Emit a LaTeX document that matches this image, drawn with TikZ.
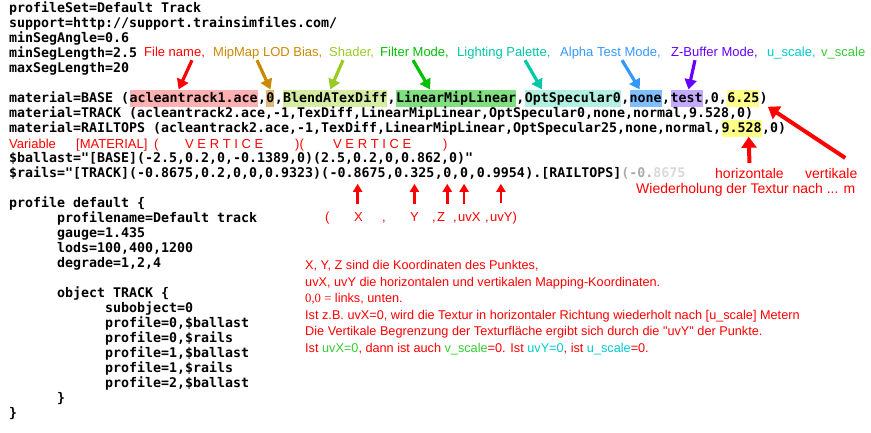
\documentclass[tikz,border=0pt]{standalone}
\usepackage{fontspec}
\usepackage{tikz}
\usetikzlibrary{positioning,arrows.meta}
\newfontfamily\codefont{DejaVu Sans Mono}
\newfontfamily\notefont{Liberation Sans}
\newfontfamily\noteserif{Liberation Serif}
\definecolor{annred}{HTML}{FF0000}
\definecolor{mipor}{HTML}{CC8800}
\definecolor{shdgr}{HTML}{99CC22}
\definecolor{fltgr}{HTML}{00C000}
\definecolor{littl}{HTML}{00C8A8}
\definecolor{alpbl}{HTML}{3399FF}
\definecolor{zbvio}{HTML}{6600FF}
\definecolor{uscl}{HTML}{00CCCC}
\definecolor{vscl}{HTML}{33CC33}
\definecolor{hlfile}{HTML}{FFB0B0}
\definecolor{hlmip}{HTML}{E0B878}
\definecolor{hlshd}{HTML}{D6ECA2}
\definecolor{hlflt}{HTML}{80E080}
\definecolor{hllit}{HTML}{B2F0E2}
\definecolor{hlalp}{HTML}{80BFFF}
\definecolor{hlzb}{HTML}{C4AAFF}
\definecolor{hlscl}{HTML}{FFFF88}

\begin{document}
\begin{tikzpicture}[
      x=1pt, y=-1pt,
      code/.style={
        anchor=base west,
        inner xsep=0pt,
        inner ysep=1pt,
        text height=12pt,
        text depth=3pt,
        font=\codefont\bfseries\fontsize{13.29}{15}\selectfont,
      },
      note/.style={
        anchor=base west,
        inner sep=0pt,
        text depth=3pt,
        font=\notefont\fontsize{13}{15}\selectfont,
      },
      big/.style={note, text=annred, font=\notefont\fontsize{14}{16}\selectfont},
      expl/.style={note, text=annred, font=\notefont\fontsize{12.7}{15}\selectfont},
      arr/.style={line width=3.2pt, -{Triangle[width=12pt,length=10pt]}},
      bigarr/.style={line width=4pt, annred, -{Triangle[width=15pt,length=11pt]}},
      uparr/.style={line width=2.6pt, annred, shorten <=9pt, shorten >=2pt,
        -{Triangle[width=9pt,length=8pt]}},
    ]
      \path[use as bounding box, fill=white] (0,0) rectangle (871,433);

      % file header
      \node[code] (l0) at (9,12.6) {profileSet=Default Track};
      \node[code] (l1) at (9,27.6) {support=http://support.trainsimfiles.com/};
      \node[code] (l2) at (9,42.6) {minSegAngle=0.6};
      \node[code] (l3) at (9,57.6) {minSegLength=2.5};
      \node[code] (l4) at (9,72.6) {maxSegLength=20};

      % material BASE, split into its fields
      \node[code] (mBase) at (9,102.6) {material=BASE (};
      \node[code, fill=hlfile, right=0pt of mBase] (hFile) {acleantrack1.ace};
      \node[code, right=0pt of hFile] (c1) {,};
      \node[code, fill=hlmip, right=0pt of c1] (hMip) {0};
      \node[code, right=0pt of hMip] (c2) {,};
      \node[code, fill=hlshd, right=0pt of c2] (hShd) {BlendATexDiff};
      \node[code, right=0pt of hShd] (c3) {,};
      \node[code, fill=hlflt, right=0pt of c3] (hFlt) {LinearMipLinear};
      \node[code, right=0pt of hFlt] (c4) {,};
      \node[code, fill=hllit, right=0pt of c4] (hLit) {OptSpecular0};
      \node[code, right=0pt of hLit] (c5) {,};
      \node[code, fill=hlalp, right=0pt of c5] (hAlp) {none};
      \node[code, right=0pt of hAlp] (c6) {,};
      \node[code, fill=hlzb, right=0pt of c6] (hZb) {test};
      \node[code, right=0pt of hZb] (c7) {,0,};
      \node[code, fill=hlscl, right=0pt of c7] (hScl) {6.25};
      \node[code, right=0pt of hScl] (bClose) {)};

      \node[code] (mTrack) at (9,117.6) {material=TRACK (acleantrack2.ace,-1,TexDiff,LinearMipLinear,OptSpecular0,none,normal,9.528,0)};
      \node[code] (mRail) at (9,132.6) {material=RAILTOPS (acleantrack2.ace,-1,TexDiff,LinearMipLinear,OptSpecular25,none,normal,};
      \node[code, fill=hlscl, right=0pt of mRail] (hRep) {9.528};
      \node[code, right=0pt of hRep] (rClose) {,0)};

      % variables
      \node[code] (vBal) at (9,162.6) {\$ballast="[BASE](-2.5,0.2,0,-0.1389,0)(2.5,0.2,0,0.862,0)"};
      \node[code] (vRails) at (9,177.6) {\$rails="[TRACK](-0.8675,0.2,0,0,0.9323)(};
      \node[code, right=0pt of vRails] (rX) {-0.8675};
      \node[code, right=0pt of rX] (k1) {,};
      \node[code, right=0pt of k1] (rY) {0.325};
      \node[code, right=0pt of rY] (k2) {,};
      \node[code, right=0pt of k2] (rZ) {0};
      \node[code, right=0pt of rZ] (k3) {,};
      \node[code, right=0pt of k3] (rU) {0};
      \node[code, right=0pt of rU] (k4) {,};
      \node[code, right=0pt of k4] (rV) {0.9954};
      \node[code, right=0pt of rV] (rTail) {).[RAILTOPS]\textcolor{gray!65}{(-0.}\textcolor{gray!30}{8675}};

      % profile block
      \node[code] (p0) at (9,207.6) {profile default \{};
      \node[code] (p1) at (57,222.6) {profilename=Default track};
      \node[code] (p2) at (57,237.6) {gauge=1.435};
      \node[code] (p3) at (57,252.6) {lods=100,400,1200};
      \node[code] (p4) at (57,267.6) {degrade=1,2,4};
      \node[code] (p5) at (57,297.6) {object TRACK \{};
      \node[code] (p6) at (105,312.6) {subobject=0};
      \node[code] (p7) at (105,327.6) {profile=0,\$ballast};
      \node[code] (p8) at (105,342.6) {profile=0,\$rails};
      \node[code] (p9) at (105,357.6) {profile=1,\$ballast};
      \node[code] (p10) at (105,372.6) {profile=1,\$rails};
      \node[code] (p11) at (105,387.6) {profile=2,\$ballast};
      \node[code] (p12) at (57,402.6) {\}};
      \node[code] (p13) at (9,417.6) {\}};

      % field names above the material line
      \node[note, text=annred] (lFile) at (144,57) {File name,};
      \node[note, text=mipor] (lMip) at (213,57) {MipMap LOD Bias,};
      \node[note, text=shdgr] (lShd) at (329,57) {Shader,};
      \node[note, text=fltgr] (lFlt) at (380,57) {Filter Mode,};
      \node[note, text=littl] (lLit) at (457,57) {Lighting Palette,};
      \node[note, text=alpbl] (lAlp) at (560,57) {Alpha Test Mode,};
      \node[note, text=zbvio] (lZb) at (671,57) {Z-Buffer Mode,};
      \node[note, text=uscl] (lU) at (767,57) {u\_scale,};
      \node[note, text=vscl] (lV) at (821,57) {v\_scale};

      \draw[arr, annred] ([xshift=48pt]lFile.south west) -- ([xshift=-15pt]hFile.north);
      \draw[arr, mipor] ([xshift=44pt]lMip.south west) -- (hMip.north);
      \draw[arr, shdgr] ([xshift=14pt]lShd.south west) -- ([xshift=-5pt]hShd.north);
      \draw[arr, fltgr] ([xshift=33pt]lFlt.south west) -- ([xshift=-26pt]hFlt.north);
      \draw[arr, littl] ([xshift=68pt]lLit.south west) -- ([xshift=-31pt]hLit.north);
      \draw[arr, alpbl] ([xshift=62pt]lAlp.south west) -- ([xshift=-6pt]hAlp.north);
      \draw[arr, zbvio] ([xshift=24pt]lZb.south west) -- ([xshift=2pt]hZb.north);

      % variable line legend
      \node[note, text=annred] (vVar) at (9,148.5) {Variable};
      \node[note, text=annred] (vMat) at (76,148.5) {[MATERIAL]};
      \node[note, text=annred] (vOpen) at (154,148.5) {(};
      \node[note, text=annred] (vV1) at (185,148.5) {V E R T I C E};
      \node[note, text=annred] (vMid) at (295,148.5) {)(};
      \node[note, text=annred] (vV2) at (333,148.5) {V E R T I C E};
      \node[note, text=annred] (vShut) at (443,148.5) {)};

      % texture repeat
      \node[big] (lHor) at (715,178.3) {horizontale};
      \node[big] (lVer) at (805,178.3) {vertikale};
      \node[big] (lRep) at (636,193.3) {Wiederholung der Textur nach ... m};
      \draw[bigarr] ([yshift=5pt]lHor.north) -- ([xshift=7pt]hRep.south);
      \draw[bigarr] ([xshift=14pt,yshift=10pt]lVer.north) -- (bClose.south east);

      % vertex fields
      \node[note, text=annred] (xOpen) at (325,222) {(};
      \node[note, text=annred] (lX) at (354,222) {X};
      \node[note, text=annred] (xc1) at (382,222) {,};
      \node[note, text=annred] (lY) at (410,222) {Y};
      \node[note, text=annred] (xc2) at (432,222) {,};
      \node[note, text=annred] (lZ) at (437,222) {Z};
      \node[note, text=annred] (xc3) at (453,222) {,};
      \node[note, text=annred] (lUvx) at (458,222) {uvX};
      \node[note, text=annred] (xc4) at (485,222) {,};
      \node[note, text=annred] (lUvy) at (490,222) {uvY)};
      \draw[uparr] (rX |- lX.north) -- (rX.south);
      \draw[uparr] (rY |- lY.north) -- (rY.south);
      \draw[uparr] (rZ |- lZ.north) -- (rZ.south);
      \draw[uparr] (rU |- lUvx.north) -- (rU.south);
      \draw[uparr] (rV |- lUvy.north) -- (rV.south);

      % explanation
      \node[expl] (e1) at (305,269.5) {X, Y, Z sind die Koordinaten des Punktes,};
      \node[expl] (e2) at (305,286) {uvX, uvY die horizontalen und vertikalen Mapping-Koordinaten.};
      \node[expl] (e3) at (305,302.5) {{\noteserif 0,0 =} links, unten.};
      \node[expl] (e4) at (305,319) {Ist z.B. uvX=0, wird die Textur in horizontaler Richtung wiederholt nach [u\_scale] Metern};
      \node[expl] (e5) at (305,335.5) {Die Vertikale Begrenzung der Texturfläche ergibt sich durch die "uvY" der Punkte.};
      \node[expl] (e6) at (305,352) {Ist \textcolor{vscl}{uvX=0}, dann ist auch \textcolor{vscl}{v\_scale}=0. Ist \textcolor{uscl}{uvY=0}, ist \textcolor{uscl}{u\_scale}=0.};
    \end{tikzpicture}
\end{document}
